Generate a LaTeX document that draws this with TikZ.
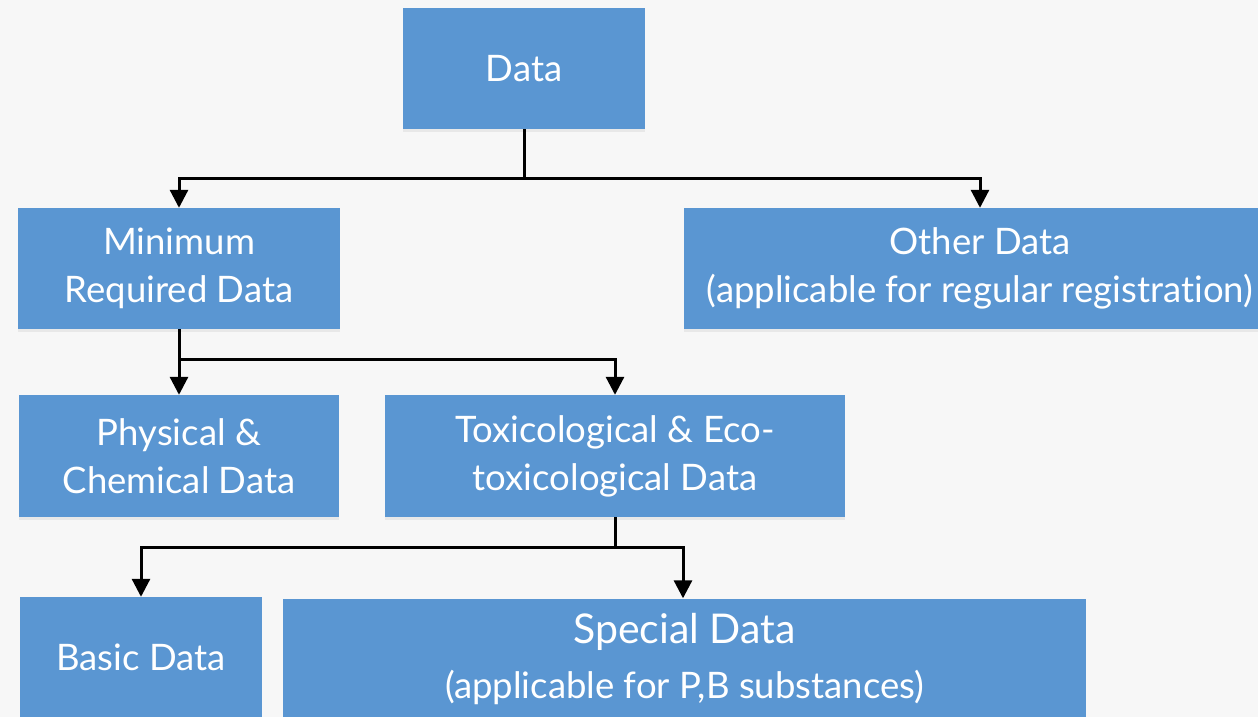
\documentclass[tikz,border=0pt]{standalone}
\usepackage{fontspec}
\setmainfont{Lato}[Ligatures=NoCommon]
\usetikzlibrary{arrows.meta,shadows}
\definecolor{boxblue}{HTML}{5A96D2}
\definecolor{pagebg}{HTML}{F7F7F7}
\tikzset{
  databox/.style={fill=boxblue, text=white, align=center, inner sep=0pt,
    minimum height=121pt,
    drop shadow={opacity=0.12, shadow xshift=0pt, shadow yshift=-3pt}},
  txt/.style={font=\fontsize{36.5}{48}\selectfont},
  link/.style={line width=3pt, black},
  linkarrow/.style={link, -{Triangle[length=18pt,width=18pt]}},
}
\begin{document}
\begin{tikzpicture}[x=1pt, y=-1pt]
  \fill[pagebg] (0,0) rectangle (1258,717);
  \useasboundingbox (0,0) rectangle (1258,717);
  \clip (0,0) rectangle (1258,717);

  % boxes
  \node[databox, txt, minimum width=242pt] (data) at (524,68.5) {Data};
  \node[databox, txt, minimum width=322pt] (minreq) at (179,268.5) {Minimum\\Required Data};
  \node[databox, txt, minimum width=592pt] (other) at (980,268.5) {Other Data\\(applicable for regular registration)};
  \node[databox, txt, minimum width=320pt, minimum height=122pt] (phys) at (179,456) {Physical \&\\Chemical Data};
  \node[databox, txt, minimum width=460pt, minimum height=122pt] (tox) at (615,456) {Toxicological \& Eco-\\toxicological Data};
  \node[databox, txt, minimum width=242pt] (basic) at (141,657.5) {Basic Data};
  \node[databox, minimum width=803pt, font=\fontsize{36.5}{55}\selectfont] (special) at (684.5,659)
    {{\fontsize{41}{41}\selectfont Special Data}\\(applicable for P,B substances)};

  % junction points
  \coordinate (j1) at (524,178);
  \coordinate (j2) at (179,359);
  \coordinate (j3) at (615,547);

  % connectors
  \draw[link] (data.south) -- (j1);
  \draw[linkarrow] (j1) -| (minreq.north);
  \draw[linkarrow] (j1) -| (other.north);

  \draw[linkarrow] (minreq.south) -- (phys.north);
  \draw[linkarrow] (j2) -| (tox.north);

  \draw[link] (tox.south) -- (j3);
  \draw[linkarrow] (j3) -| (basic.north);
  \draw[linkarrow] (j3) -| ([xshift=-1.5pt]special.north);
\end{tikzpicture}
\end{document}
